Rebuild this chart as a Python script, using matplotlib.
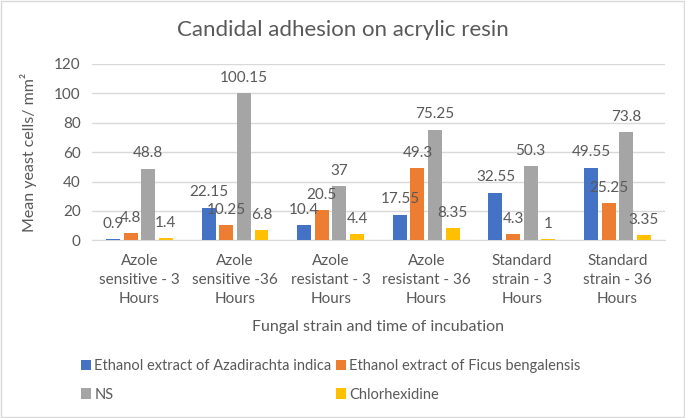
import numpy as np
import matplotlib
matplotlib.use('Agg')
from matplotlib import pyplot as plt
from matplotlib.patches import Rectangle

categories = ['Azole\nsensitive - 3\nHours', 'Azole\nsensitive -36\nHours',
              'Azole\nresistant - 3\nHours', 'Azole\nresistant - 36\nHours',
              'Standard\nstrain - 3\nHours', 'Standard\nstrain - 36\nHours']
azadirachta = [0.9, 22.15, 10.4, 17.55, 32.55, 49.55]
ficus = [4.8, 10.25, 20.5, 49.3, 4.3, 25.25]
ns = [48.8, 100.15, 37, 75.25, 50.3, 73.8]
chlorhexidine = [1.4, 6.8, 4.4, 8.35, 1, 3.35]
labels = ['Ethanol extract of Azadirachta indica', 'Ethanol extract of Ficus bengalensis',
          'NS', 'Chlorhexidine']
colors = ['#4472C4', '#ED7D31', '#A5A5A5', '#FFC000']

plt.rcParams['font.family'] = ['Lato', 'DejaVu Sans']
txt = '#595959'

fig = plt.figure(figsize=(6.85, 4.18), dpi=100)
ax = fig.add_axes([0.134, 0.425, 0.837, 0.422])
fig.patches.append(Rectangle((0.002, 0.002), 0.996, 0.996, transform=fig.transFigure,
                             fill=False, edgecolor='#d9d9d9', linewidth=1))

x = np.arange(len(categories))
step = 0.184
width = 0.146
series = [azadirachta, ficus, ns, chlorhexidine]
handles = []
for i, (vals, lab, col) in enumerate(zip(series, labels, colors)):
    pos = x + (i - 1.5) * step
    handles.append(ax.bar(pos, vals, width, color=col, label=lab, zorder=3))
    for p, v in zip(pos, vals):
        ax.annotate(f'{v:g}', (p, v), xytext=(0, 6), textcoords='offset points',
                    ha='center', va='bottom', fontsize=11, color=txt, zorder=6)

ax.set_ylim(0, 120)
ax.set_yticks(range(0, 121, 20))
ax.set_xlim(-0.5, len(categories) - 0.5)
ax.set_xticks(x)
ax.set_xticklabels(categories, fontsize=11, color=txt, linespacing=1.45)
ax.tick_params(axis='y', labelsize=11, labelcolor=txt, length=0, pad=8)
ax.tick_params(axis='x', length=0, pad=10)
ax.grid(axis='y', color='#d9d9d9', linewidth=1, zorder=0)
for s in ['top', 'right', 'left']:
    ax.spines[s].set_visible(False)
ax.spines['bottom'].set_color('#d9d9d9')

ax.set_ylabel('Mean yeast cells/ mm²', fontsize=11.5, color=txt, labelpad=12)
ax.set_xlabel('Fungal strain and time of incubation', fontsize=11.5, color=txt, labelpad=10)
fig.suptitle('Candidal adhesion on acrylic resin', x=0.5, y=0.928, va='center',
             fontsize=16, color=txt)

order = [0, 2, 1, 3]
fig.legend([handles[k] for k in order], [labels[k] for k in order],
           loc='center', bbox_to_anchor=(0.483, 0.09), ncol=2, frameon=False,
           fontsize=10.5, labelcolor=txt, handlelength=0.7, handleheight=0.7,
           handletextpad=0.2, columnspacing=0.3, labelspacing=1.0)

plt.savefig('out.png', dpi=100)
